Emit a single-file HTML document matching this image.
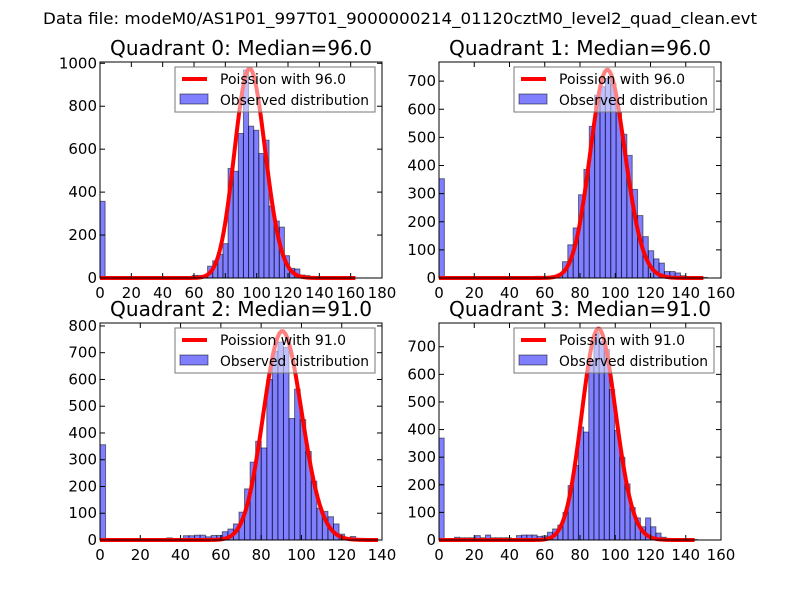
<!DOCTYPE html>
<html><head><meta charset="utf-8"><style>
body{margin:0;background:#fff}
svg{font-family:"DejaVu Sans","Liberation Sans",sans-serif}
</style></head><body>
<svg id="fig" width="800" height="600" viewBox="0 0 800 600">
<rect width="800" height="600" fill="#fff"/>
<text x="400" y="24" font-size="16" text-anchor="middle" textLength="714" lengthAdjust="spacingAndGlyphs">Data file: modeM0/AS1P01_997T01_9000000214_01120cztM0_level2_quad_clean.evt</text>
</svg>
<script>
// Quadrant 0
const q0Counts = {0:357,17:4,18:12,19:12,20:10,21:55,22:80,23:110,24:160,25:510,26:497,27:673,28:969,29:707,30:688,31:580,32:642,33:335,34:265,35:237,36:104,37:45,38:42,39:14,40:11,41:3,42:2,43:2,44:2,45:1,46:1};
const q0Bin = 3.27, q0Median = 96.0, q0Peak = 975, q0Max = 163;
const q0XTicks = [0,20,40,60,80,100,120,140,160,180];
const q0YTicks = [0,200,400,600,800,1000];
// Quadrant 1
const q1Counts = {0:353,14:2,15:2,16:2,17:3,18:6,19:4,20:6,21:8,22:14,23:58,24:118,25:178,26:296,27:386,28:539,29:650,30:680,31:710,32:690,33:590,34:511,35:436,36:315,37:222,38:147,39:97,40:68,41:53,42:23,43:23,44:18,45:8,46:3,47:3,48:2,49:2};
const q1Bin = 3.045, q1Median = 96.0, q1Peak = 740, q1Max = 150;
const q1XTicks = [0,20,40,60,80,100,120,140,160];
const q1YTicks = [0,100,200,300,400,500,600,700];
// Quadrant 2
const q2Counts = {0:356,9:2,10:2,12:8,13:3,14:3,15:16,16:16,17:18,18:18,19:12,20:17,21:17,22:31,23:41,24:60,25:104,26:191,27:291,28:369,29:344,30:600,31:706,32:740,33:720,34:454,35:564,36:450,37:331,38:220,39:119,40:107,41:87,42:60,43:22,44:3,45:13,46:3,47:2,48:2,49:2};
const q2Bin = 2.76, q2Median = 91.0, q2Peak = 780, q2Max = 138;
const q2XTicks = [0,20,40,60,80,100,120,140];
const q2YTicks = [0,100,200,300,400,500,600,700,800];
// Quadrant 3
const q3Counts = {0:369,3:10,4:8,5:8,6:8,7:16,8:8,9:18,10:8,11:8,12:8,13:8,14:3,15:16,16:18,17:18,18:18,19:13,20:15,21:28,22:40,23:54,24:100,25:197,26:270,27:409,28:391,29:650,30:751,31:720,32:690,33:545,34:397,35:300,36:203,37:118,38:80,39:48,40:80,41:48,42:25,43:10,44:5,45:3,46:2,47:2,49:2};
const q3Bin = 2.93, q3Median = 91.0, q3Peak = 765, q3Max = 145;
const q3XTicks = [0,20,40,60,80,100,120,140,160];
const q3YTicks = [0,100,200,300,400,500,600,700];

const NS = "http://www.w3.org/2000/svg";
const svg = document.getElementById('fig');
function mk(tag, attrs, parent){const e=document.createElementNS(NS,tag);for(const k in attrs)e.setAttribute(k,attrs[k]);(parent||svg).appendChild(e);return e;}

function lnFact(k){let s=0;for(let i=2;i<=k;i++)s+=Math.log(i);return s;}

function panel(q, box, counts, bin, median, peak, maxX, xTicks, yTicks, xMax, yMax){
  const g = mk('g',{});
  
  
  const X = v => box.x + (v/xMax)*box.w;
  const Y = v => box.y + box.h - (v/yMax)*box.h;
  const t = mk('text',{x:box.x+box.w/2,y:box.y-7,'font-size':20,'text-anchor':'middle',textLength:262,lengthAdjust:'spacingAndGlyphs'},g);
  t.textContent = 'Quadrant '+q+': Median='+median.toFixed(1);
  
  
  for(const k in counts){
    const i=+k, c=counts[k];
    const r = mk('rect',{x:X(i*bin),y:Y(c),width:X((i+1)*bin)-X(i*bin),height:Y(0)-Y(c),fill:'rgba(0,0,255,0.5)',stroke:'rgba(0,0,0,0.5)','stroke-width':1},g);
    
    
  }
  const lp = median*Math.log(median)-median-lnFact(Math.round(median));
  let d='';
  for(let k=0;k<=maxX;k++){
    const lv = k*Math.log(median||1)-median-lnFact(k);
    const v = peak*Math.exp(lv-lp);
    d += (k?'L':'M')+X(k).toFixed(2)+' '+Y(v).toFixed(2);
  }
  const p = mk('path',{d:d,fill:'none',stroke:'#ff0000','stroke-width':4,'stroke-linejoin':'round'},g);
  
  
  xTicks.forEach(v=>{
    const x=X(v);
    mk('line',{x1:x,x2:x,y1:box.y+box.h,y2:box.y+box.h-5,stroke:'#000'},g);
    mk('line',{x1:x,x2:x,y1:box.y,y2:box.y+5,stroke:'#000'},g);
    const tl = mk('text',{x:x,y:box.y+box.h+20,'font-size':15,'text-anchor':'middle'},g);
    tl.textContent=v;
    
    
  });
  yTicks.forEach(v=>{
    const y=Y(v);
    mk('line',{x1:box.x,x2:box.x+5,y1:y,y2:y,stroke:'#000'},g);
    mk('line',{x1:box.x+box.w,x2:box.x+box.w-5,y1:y,y2:y,stroke:'#000'},g);
    const tl = mk('text',{x:box.x-3,y:y+5,'font-size':15,'text-anchor':'end'},g);
    tl.textContent=v;
    
    
  });
  const fr = mk('rect',{x:box.x,y:box.y,width:box.w,height:box.h,fill:'none',stroke:'#000','stroke-width':1},g);
  
  
  const lg = mk('g',{},g);
  
  
  const lx = box.x+75, ly = box.y+5;
  mk('rect',{x:lx,y:ly,width:200,height:45,fill:'rgba(255,255,255,0.5)',stroke:'#777','stroke-width':1},lg);
  mk('line',{x1:lx+7,x2:lx+32,y1:ly+12,y2:ly+12,stroke:'#ff0000','stroke-width':4},lg);
  const a = mk('text',{x:lx+45,y:ly+17,'font-size':14},lg);
  a.textContent='Poission with '+median.toFixed(1);
  
  
  mk('rect',{x:lx+5,y:ly+27,width:28,height:10,fill:'rgba(0,0,255,0.5)',stroke:'rgba(0,0,0,0.5)'},lg);
  const b = mk('text',{x:lx+45,y:ly+38,'font-size':14,textLength:149,lengthAdjust:'spacingAndGlyphs'},lg);
  b.textContent='Observed distribution';
  
  
}
panel(0,{x:100,y:62,w:282,h:216},q0Counts,q0Bin,q0Median,q0Peak,q0Max,q0XTicks,q0YTicks,180,1006);
panel(1,{x:439,y:62,w:282,h:216},q1Counts,q1Bin,q1Median,q1Peak,q1Max,q1XTicks,q1YTicks,160,768);
panel(2,{x:100,y:323,w:282,h:217},q2Counts,q2Bin,q2Median,q2Peak,q2Max,q2XTicks,q2YTicks,140,811);
panel(3,{x:439,y:323,w:282,h:217},q3Counts,q3Bin,q3Median,q3Peak,q3Max,q3XTicks,q3YTicks,160,786);
</script>
</body></html>
